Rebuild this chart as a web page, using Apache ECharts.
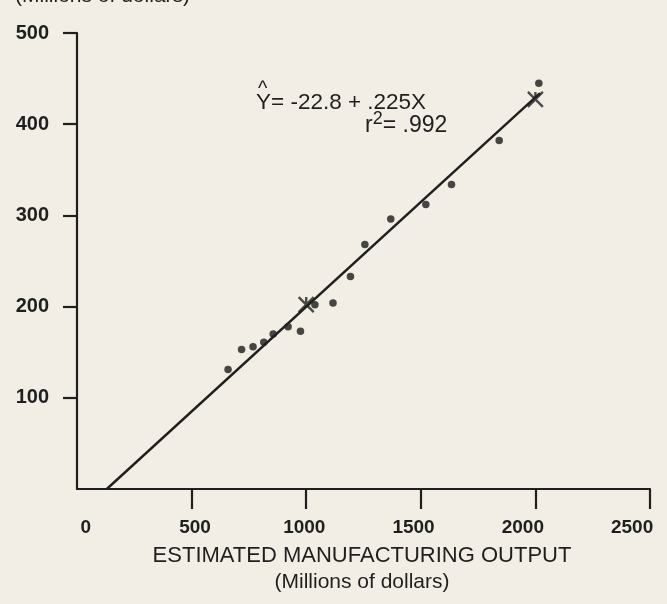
<!DOCTYPE html>
<html>
<head>
<meta charset="utf-8">
<script src="https://cdn.jsdelivr.net/npm/echarts@6/dist/echarts.min.js"></script>
<style>
html,body{margin:0;padding:0;background:#f2eee5;}
#main{width:667px;height:604px;}
</style>
</head>
<body>
<div id="main"></div>
<script>
// Observed data: estimated manufacturing output (X) vs. dependent variable (Y), millions of dollars
const pointsX = [659, 718, 768, 815, 856, 921, 975, 1038, 1117, 1193, 1256, 1369, 1522, 1634, 1842, 2015];
const pointsY = [131, 153, 156, 161, 170, 178, 173, 202, 204, 233, 268, 296, 312, 334, 382, 445];
// Regression line (as drawn) and the two marked fitted points
const lineX = [130, 2020];
const lineY = [0, 434];
const markX = [1000, 2000];
const markY = [202.2, 427.2];
// Axis ticks
const xTicks = [0, 500, 1000, 1500, 2000, 2500];
const yTicks = [0, 100, 200, 300, 400, 500];

const FONT = 'Liberation Sans';
const INK = '#1f1f1f';

const chart = echarts.init(document.getElementById('main'), null, {renderer: 'canvas'});
chart.setOption({
  backgroundColor: '#f2eee5',
  animation: false,
  grid: {left: 77, right: 17, top: 33, bottom: 115},
  xAxis: [{
    type: 'value', min: 0, max: 2500, interval: 500,
    splitLine: {show: false},
    axisLine: {show: true, lineStyle: {color: INK, width: 2.2}},
    axisTick: {show: true, length: 20, lineStyle: {color: INK, width: 2.2},
               customValues: xTicks.filter(v => v > 0)},
    axisLabel: {show: false}
  }, {
    type: 'value', min: -40, max: 2582, position: 'bottom',
    splitLine: {show: false}, axisLine: {show: false}, axisTick: {show: false},
    axisLabel: {show: true, customValues: xTicks, margin: 29,
                formatter: v => String(v),
                fontFamily: FONT, fontSize: 19, fontWeight: 'bold', color: INK}
  }],
  yAxis: {
    type: 'value', min: 0, max: 500, interval: 100,
    splitLine: {show: false},
    axisLine: {show: true, lineStyle: {color: INK, width: 2.2}},
    axisTick: {show: true, length: 14, lineStyle: {color: INK, width: 2.2},
               customValues: yTicks.filter(v => v > 0)},
    axisLabel: {show: true, customValues: yTicks.filter(v => v > 0), margin: 28,
                formatter: v => String(v),
                fontFamily: FONT, fontSize: 20, fontWeight: 'bold', color: INK}
  },
  series: [{
    type: 'line', xAxisIndex: 0,
    data: lineX.map((x, i) => [x, lineY[i]]),
    showSymbol: false, lineStyle: {color: INK, width: 2.4}
  }, {
    type: 'scatter', xAxisIndex: 0,
    data: pointsX.map((x, i) => [x, pointsY[i]]),
    symbol: 'circle', symbolSize: 7.5, itemStyle: {color: '#1a1a1a'}
  }, {
    type: 'scatter', xAxisIndex: 0,
    data: markX.map((x, i) => [x, markY[i]]),
    symbol: 'path://M0 0 L10 10 M10 0 L0 10 M5 0 L5 4', symbolSize: 15,
    itemStyle: {color: 'none', borderColor: INK, borderWidth: 2.4}
  }],
  graphic: [
    {type: 'text', left: 15, top: -14,
     style: {text: '(Millions of dollars)', fontFamily: FONT, fontSize: 21, fill: INK}},
    {type: 'text', x: 362, y: 556,
     style: {text: 'ESTIMATED MANUFACTURING OUTPUT', fontFamily: FONT, fontSize: 22,
             fill: INK, align: 'center', verticalAlign: 'middle'}},
    {type: 'text', x: 362, y: 582,
     style: {text: '(Millions of dollars)', fontFamily: FONT, fontSize: 21,
             fill: INK, align: 'center', verticalAlign: 'middle'}},
    {type: 'text', x: 256, y: 103,
     style: {text: 'Y= -22.8 + .225X', fontFamily: FONT, fontSize: 22.5,
             fill: INK, align: 'left', verticalAlign: 'middle'}},
    {type: 'text', x: 258, y: 89,
     style: {text: '^', fontFamily: FONT, fontSize: 20,
             fill: INK, align: 'left', verticalAlign: 'middle'}},
    {type: 'text', x: 365, y: 124,
     style: {text: '{s|r}{sup|2}{s|= .992}', fontFamily: FONT, fill: INK,
             align: 'left', verticalAlign: 'middle',
             rich: {s: {fontFamily: FONT, fontSize: 23, fill: INK, verticalAlign: 'bottom'},
                    sup: {fontFamily: FONT, fontSize: 18, fill: INK, verticalAlign: 'top', padding: [0, 0, 9, 0]}}}}
  ]
});
</script>
</body>
</html>
